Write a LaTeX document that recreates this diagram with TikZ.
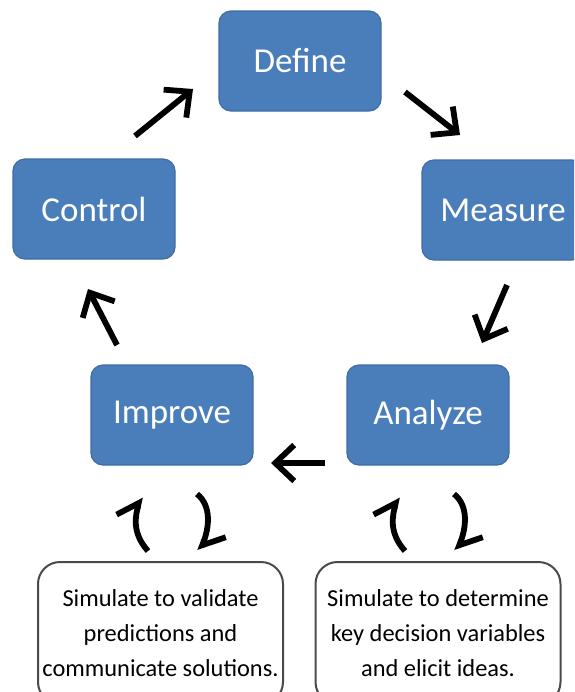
\documentclass[tikz,border=0pt]{standalone}
\usepackage{fontspec}
\setmainfont{Carlito}
\usetikzlibrary{arrows.meta, positioning}
\definecolor{stage}{HTML}{4A7EBB}
\definecolor{stageline}{HTML}{3F6CA3}
\definecolor{noteline}{HTML}{4A4A4A}

\begin{document}
\begin{tikzpicture}[
    x=0.5pt, y=-0.5pt,
    stagebox/.style={draw=stageline, fill=stage, rounded corners=6pt, line width=0.6pt,
                     minimum width=81pt, minimum height=50pt, text=white,
                     font=\fontsize{17.5}{21}\selectfont},
    note/.style={draw=noteline, rounded corners=11pt, line width=1pt, align=center,
                 minimum width=122.5pt, minimum height=71pt, inner sep=0pt,
                 font=\fontsize{12.2}{17.6}\selectfont},
    cycle/.style={-{Straight Barb[length=9.5pt, width=18pt, line width=2.9pt]}, line width=2.9pt},
    loop/.style={-{Straight Barb[harpoon, length=8pt, width=19pt, line width=2.9pt]}, line width=2.9pt},
]
    \useasboundingbox (0,0) rectangle (574,692);
    \clip (0,0) rectangle (574,692);

    % DMAIC stages
    \node[stagebox] (define)  at (300,61)  {Define};
    \node[stagebox] (measure) at (503,210) {Measure};
    \node[stagebox] (analyze) at (428,415) {Analyze};
    \node[stagebox] (improve) at (172,415) {Improve};
    \node[stagebox] (control) at (94,209)  {Control};

    % simulation notes
    \node[note] (improvenote) at (160.5,633) {Simulate to validate\\predictions and\\communicate solutions.};
    \node[note] (analyzenote) at (438,633) {Simulate to determine\\key decision variables\\and elicit ideas.};

    % cycle arrows
    \coordinate (cd-a) at (135,136);
    \coordinate (cd-b) at (193,89);
    \coordinate (dm-a) at (405,92);
    \coordinate (dm-b) at (460,135);
    \coordinate (ma-a) at (507,285);
    \coordinate (ma-b) at (482,343);
    \coordinate (ai-a) at (325,463);
    \coordinate (ai-b) at (271,463);
    \coordinate (ic-a) at (117,345);
    \coordinate (ic-b) at (88,289);

    \draw[cycle] (cd-a) -- (cd-b);
    \draw[cycle] (dm-a) -- (dm-b);
    \draw[cycle] (ma-a) -- (ma-b);
    \draw[cycle] (ai-a) -- (ai-b);
    \draw[cycle] (ic-a) -- (ic-b);

    % feedback between stages and notes
    \foreach \dx in {0,257} {
        \draw[loop] ({148+\dx},551) .. controls ({131+\dx},532) and ({136+\dx},515) .. ({140+\dx},497);
        \draw[loop] ({197+\dx},494) .. controls ({212+\dx},506) and ({209+\dx},528) .. ({200+\dx},551);
    }
\end{tikzpicture}
\end{document}
